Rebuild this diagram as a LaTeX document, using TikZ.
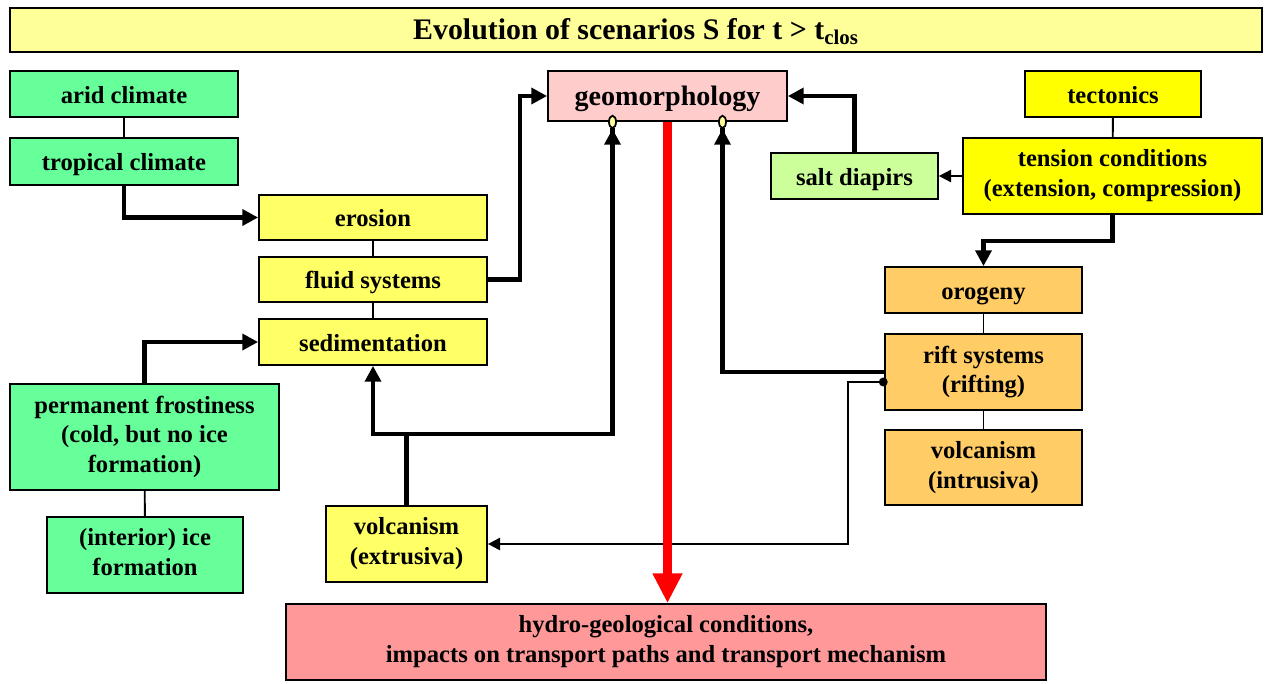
\documentclass[tikz,border=0pt]{standalone}
\usepackage{fontspec}
\setmainfont{Liberation Serif}
\usetikzlibrary{arrows.meta,calc}
\definecolor{leaf}{HTML}{66FF99}
\definecolor{lime}{HTML}{CCFF99}
\definecolor{sand}{HTML}{FFFF66}
\definecolor{lemon}{HTML}{FFFF00}
\definecolor{cream}{HTML}{FFFF99}
\definecolor{amber}{HTML}{FFCC66}
\definecolor{blush}{HTML}{FFCCCC}
\definecolor{salmon}{HTML}{FF9999}
\newcommand{\sline}{\rule[-3.1pt]{0pt}{17pt}}

\begin{document}
\begin{tikzpicture}[x=0.02cm,y=-0.02cm,
   font=\bfseries\fontsize{14}{17}\selectfont,
   b/.style={draw=black,line width=1pt,fill=#1,align=center,inner sep=2pt,
             execute at begin node=\sline,execute at end node=\sline},
   sz/.style 2 args={minimum width=#1cm,minimum height=#2cm},
   ln/.style={line width=1.1pt},
   thk/.style={line width=2.6pt,-{Triangle[length=9pt,width=9pt]}},
   thn/.style={line width=1.1pt,-{Triangle[length=7pt,width=7pt]}},
   ring/.style={line width=2.6pt,shorten >=-4pt,
                -{Triangle[length=9pt,width=9pt] Ellipse[length=8pt,width=5pt,line width=1pt,fill=cream]}}]
  \useasboundingbox (0,0) rectangle (1271,683);
  \node[b=cream,sz={25.04}{0.88},font=\bfseries\fontsize{17}{20}\selectfont] (title) at (636,30)
    {Evolution of scenarios S for t > t\textsubscript{clos}};
  \node[b=leaf,sz={4.56}{0.92}] (arid) at (124,94) {arid climate};
  \node[b=leaf,sz={4.56}{0.94}] (trop) at (124,161.5) {tropical climate};
  \node[b=sand,sz={4.56}{0.90}] (eros) at (373,217.5) {erosion};
  \node[b=sand,sz={4.56}{0.90}] (fluid) at (373,279.5) {fluid systems};
  \node[b=sand,sz={4.56}{0.92}] (sedi) at (373,342) {sedimentation};
  \node[b=blush,sz={4.78}{1.00},font=\bfseries\fontsize{16}{19}\selectfont] (geo) at (667.5,96) {geomorphology};
  \node[b=lemon,sz={3.52}{0.92}] (tect) at (1113,94) {tectonics};
  \node[b=lemon,sz={5.98}{1.52}] (tens) at (1112.5,176) {tension conditions\\(extension, compression)};
  \node[b=lime,sz={3.34}{0.92}] (salt) at (854.5,176) {salt diapirs};
  \node[b=amber,sz={3.94}{0.92}] (orog) at (983.5,290) {orogeny};
  \node[b=amber,sz={3.94}{1.52}] (rift) at (983.5,372) {rift systems\\(rifting)};
  \node[b=amber,sz={3.94}{1.50}] (volin) at (983.5,467.5) {volcanism\\(intrusiva)};
  \node[b=leaf,sz={5.38}{2.12}] (frost) at (144.5,437) {permanent frostiness\\(cold, but no ice\\formation)};
  \node[b=leaf,sz={3.92}{1.52}] (ice) at (145,555) {(interior) ice\\formation};
  \node[b=sand,sz={3.22}{1.52}] (volex) at (406.5,544) {volcanism\\(extrusiva)};
  \node[b=salmon,sz={15.2}{1.52}] (hydro) at (666,642)
    {hydro-geological conditions,\\impacts on transport paths and transport mechanism};
  % plain links
  \foreach \a/\b in {arid/trop,eros/fluid,fluid/sedi,tect/tens,orog/rift,rift/volin,frost/ice}
    \draw[ln] (\a) -- (\b);
  % arrows
  \draw[thk] (trop.south) |- (eros.west);
  \draw[thk] (fluid.east) -- ++(32,0) |- (geo.west);
  \draw[thk] (frost.north) |- (sedi.west);
  \draw[thk] (salt.north) |- (geo.east);
  \draw[thk] (tens.south) -- ++(0,26) -| (orog.north);
  \draw[thn] (tens.west) -- (salt.east);
  \draw[line width=2.6pt] (volex.north) -- ++(0,-71) coordinate (split);
  \draw[thk] (split) -| (sedi.south);
  \draw[ring] (split) -| ([xshift=-1.1cm]geo.south);
  \draw[ring] (rift.west) -| ([xshift=1.1cm]geo.south);
  \draw[line width=1.1pt,shorten <=-2pt,{Circle[length=5pt]}-{Triangle[length=7pt,width=7pt]}]
    ([yshift=-0.2cm]rift.west) -- ++(-36,0) |- (volex.east);
  \draw[red,line width=5.6pt,-{Triangle[length=17pt,width=16pt]}] (geo.south) -- (geo.south |- hydro.north);
\end{tikzpicture}
\end{document}
